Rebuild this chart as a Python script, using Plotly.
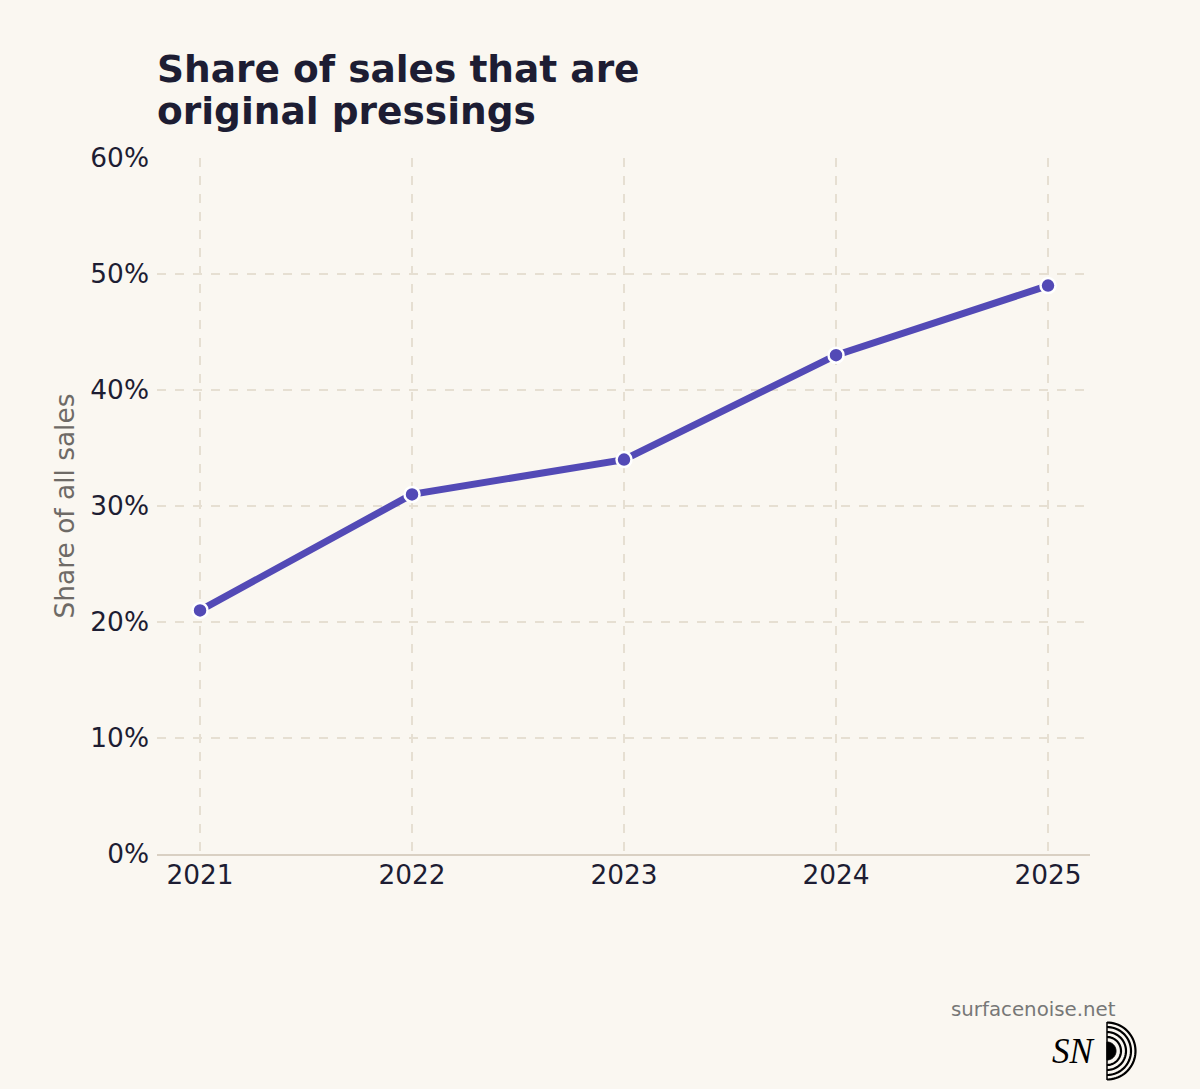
import numpy as np
import plotly.graph_objects as go

years = [2021, 2022, 2023, 2024, 2025]
share = [21, 31, 34, 43, 49]
y_ticks = [0, 10, 20, 30, 40, 50, 60]
y_tick_labels = [f"{v}%" for v in y_ticks]
title_lines = ["Share of sales that are", "original pressings"]

W, H = 1200, 1089
L, R, T, B = 157, 110, 158, 235
PW, PH = W - L - R, H - T - B

BG = "#faf7f1"
INK = "#1d1d33"
LINE = "#534ab6"
GRID = "#e6dfd2"

fig = go.Figure()
fig.add_trace(go.Scatter(
    x=years, y=share, mode="lines+markers",
    line=dict(color=LINE, width=7),
    marker=dict(size=15, color=LINE, line=dict(color="white", width=2.5)),
    hovertemplate="%{x}: %{y}%<extra></extra>",
))

def px2paper(px, py):
    return (px - L) / PW, (H - B - py) / PH

# logo arcs (decoration)
cx, cy = 1107, 1051
shapes = []
def arc_path(r, closed=False):
    pts = []
    for t in np.linspace(-np.pi / 2, np.pi / 2, 40):
        x, y = px2paper(cx + r * np.cos(t), cy + r * np.sin(t))
        pts.append(f"{x:.5f},{y:.5f}")
    p = "M " + " L ".join(pts)
    if closed:
        p += " Z"
    return p

shapes.append(dict(type="path", xref="paper", yref="paper", path=arc_path(9, True),
                   fillcolor="black", line=dict(color="black", width=1)))
for r in [14, 19, 24, 28.5]:
    shapes.append(dict(type="path", xref="paper", yref="paper", path=arc_path(r),
                       line=dict(color="black", width=2.2)))
x0, y0 = px2paper(cx, cy - 29)
x1, y1 = px2paper(cx, cy + 29)
shapes.append(dict(type="line", xref="paper", yref="paper", x0=x0, y0=y0, x1=x1, y1=y1,
                   line=dict(color="black", width=1.5)))

ann = []
for i, line in enumerate(title_lines):
    tx, ty = px2paper(155, 69 + 42 * i)
    ann.append(dict(text=f"<b>{line}</b>", xref="paper", yref="paper", x=tx, y=ty,
                    xanchor="left", yanchor="middle", showarrow=False,
                    font=dict(family="DejaVu Sans", size=37.5, color=INK)))
sx, sy = px2paper(1118, 1010)
ann.append(dict(text="surfacenoise.net", xref="paper", yref="paper", x=sx, y=sy,
                xanchor="right", yanchor="middle", showarrow=False,
                font=dict(family="DejaVu Sans", size=19.8, color="#777777")))
nx, ny = px2paper(1097, 1051)
ann.append(dict(text="<i>SN</i>", xref="paper", yref="paper", x=nx, y=ny,
                xanchor="right", yanchor="middle", showarrow=False,
                font=dict(family="Liberation Serif", size=35, color="black")))

fig.update_layout(
    width=W, height=H,
    paper_bgcolor=BG, plot_bgcolor=BG,
    margin=dict(l=L, r=R, t=T, b=B, autoexpand=False),
    showlegend=False,
    font=dict(family="DejaVu Sans", color=INK),
    xaxis=dict(range=[2020.797, 2025.198], tickvals=years, ticktext=[str(y) for y in years],
               showgrid=True, gridcolor=GRID, griddash="dash", gridwidth=1.5,
               showline=True, linecolor="#d9d0c3", linewidth=2,
               ticks="", ticklabelstandoff=-4,
               tickfont=dict(size=26.4, color=INK), zeroline=False),
    yaxis=dict(range=[0, 60], tickvals=y_ticks, ticktext=y_tick_labels,
               showgrid=True, gridcolor=GRID, griddash="dash", gridwidth=1.5,
               zeroline=False, showline=False, ticks="", ticklabelstandoff=7,
               tickfont=dict(size=26.4, color=INK),
               title=dict(text="Share of all sales", font=dict(size=26.4, color="#6e6a66"),
                          standoff=8)),
    shapes=shapes, annotations=ann,
)

fig.write_html("out.html")
